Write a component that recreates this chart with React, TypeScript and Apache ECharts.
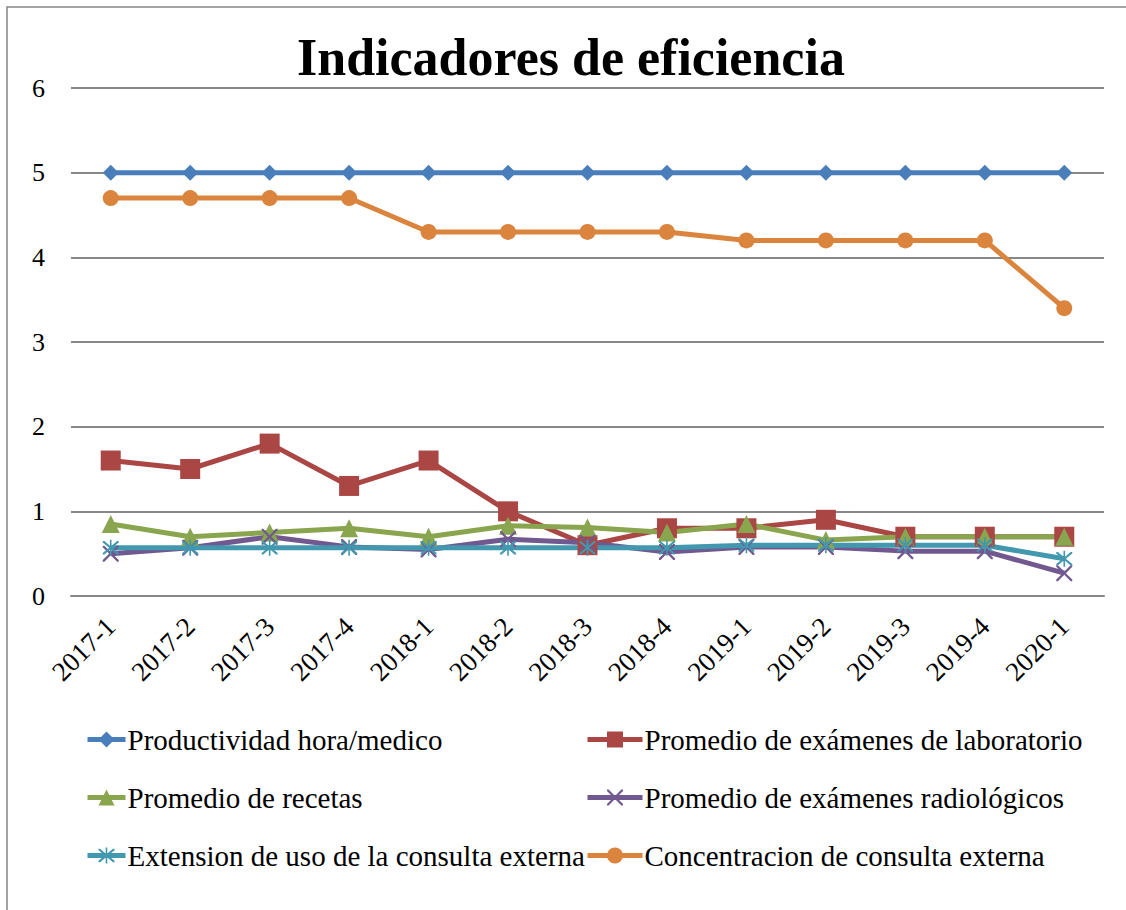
import React, { useEffect, useRef } from "react";
import * as echarts from "echarts";

const categories = ["2017-1","2017-2","2017-3","2017-4","2018-1","2018-2","2018-3","2018-4","2019-1","2019-2","2019-3","2019-4","2020-1"];
const productividad = [5,5,5,5,5,5,5,5,5,5,5,5,5];
const laboratorio = [1.6,1.5,1.8,1.3,1.6,1.0,0.6,0.8,0.8,0.9,0.7,0.7,0.7];
const recetas = [0.85,0.7,0.75,0.8,0.7,0.83,0.81,0.75,0.85,0.66,0.7,0.7,0.7];
const radiologicos = [0.5,0.57,0.7,0.58,0.55,0.67,0.63,0.52,0.58,0.58,0.53,0.53,0.27];
const extension = [0.57,0.57,0.57,0.57,0.57,0.57,0.57,0.57,0.6,0.6,0.6,0.6,0.44];
const concentracion = [4.7,4.7,4.7,4.7,4.3,4.3,4.3,4.3,4.2,4.2,4.2,4.2,3.4];
const yTicks = [0,1,2,3,4,5,6];

const names = [
  "Productividad hora/medico",
  "Promedio de exámenes de laboratorio",
  "Promedio de recetas",
  "Promedio de exámenes radiológicos",
  "Extension de uso de la consulta externa",
  "Concentracion de consulta externa",
];

const X_SYM = "path://M0,0 L2,0 L10,8 L18,0 L20,0 L20,2 L12,10 L20,18 L20,20 L18,20 L10,12 L2,20 L0,20 L0,18 L8,10 L0,2 Z";
const AST_SYM = "path://M0,0 L2,0 L10,8 L18,0 L20,0 L20,2 L12,10 L20,18 L20,20 L18,20 L10,12 L2,20 L0,20 L0,18 L8,10 L0,2 Z M9,-2 L11,-2 L11,22 L9,22 Z";

const FONT = "Liberation Serif";

export default function App() {
  const ref = useRef<HTMLDivElement>(null);
  useEffect(() => {
    const chart = echarts.init(ref.current!, null, { renderer: "svg" });
    const mk = (name: string, data: number[], color: string, symbol: string, size: number) => ({
      name,
      type: "line",
      data,
      symbol,
      symbolSize: size,
      lineStyle: { width: 5, color },
      itemStyle: { color },
      z: 2,
    });
    const legendBase = {
      orient: "vertical",
      top: 725,
      padding: 0,
      itemHeight: 20,
      itemGap: 29,
      lineStyle: { width: 5 },
      textStyle: { fontFamily: FONT, fontSize: 29, color: "#000", padding: [0, 0, 0, -3] },
    };
    chart.setOption({
      animation: false,
      textStyle: { fontFamily: FONT },
      title: {
        text: "Indicadores de eficiencia",
        left: 292,
        top: 26,
        textStyle: { fontFamily: FONT, fontSize: 52, fontWeight: "bold", color: "#000" },
      },
      graphic: [
        {
          type: "rect",
          shape: { x: 7, y: 7, width: 1140, height: 920 },
          style: { fill: "none", stroke: "#868686", lineWidth: 1.5 },
          silent: true,
        },
      ],
      grid: { left: 71, right: 22, top: 88, bottom: 314, containLabel: false },
      xAxis: {
        type: "category",
        data: categories,
        boundaryGap: true,
        axisLine: { show: true, lineStyle: { color: "#888", width: 2 } },
        axisTick: { show: false },
        axisLabel: { rotate: 45, fontFamily: FONT, fontSize: 27, color: "#000", margin: 26, interval: 0 },
      },
      yAxis: {
        type: "value",
        min: yTicks[0],
        max: yTicks[yTicks.length - 1],
        interval: 1,
        axisLine: { show: false },
        axisTick: { show: false },
        splitLine: { lineStyle: { color: "#888", width: 2 } },
        axisLabel: { fontFamily: FONT, fontSize: 26, color: "#000", margin: 26 },
      },
      legend: [
        { ...legendBase, itemWidth: 38, data: [names[0], names[2], names[4]], left: 85 },
        { ...legendBase, itemWidth: 55, data: [names[1], names[3], names[5]], left: 585 },
      ],
      series: [
        mk(names[0], productividad, "#4a7ebb", "diamond", 16),
        mk(names[1], laboratorio, "#aa4643", "rect", 20),
        mk(names[2], recetas, "#89a54e", "triangle", 18),
        mk(names[3], radiologicos, "#71588f", X_SYM, 16),
        mk(names[4], extension, "#4198af", AST_SYM, 16),
        mk(names[5], concentracion, "#db843d", "circle", 16),
      ],
    });
    return () => chart.dispose();
  }, []);
  return <div ref={ref} style={{ position: "absolute", left: 0, top: 0, width: 1126, height: 910 }} />;
}
